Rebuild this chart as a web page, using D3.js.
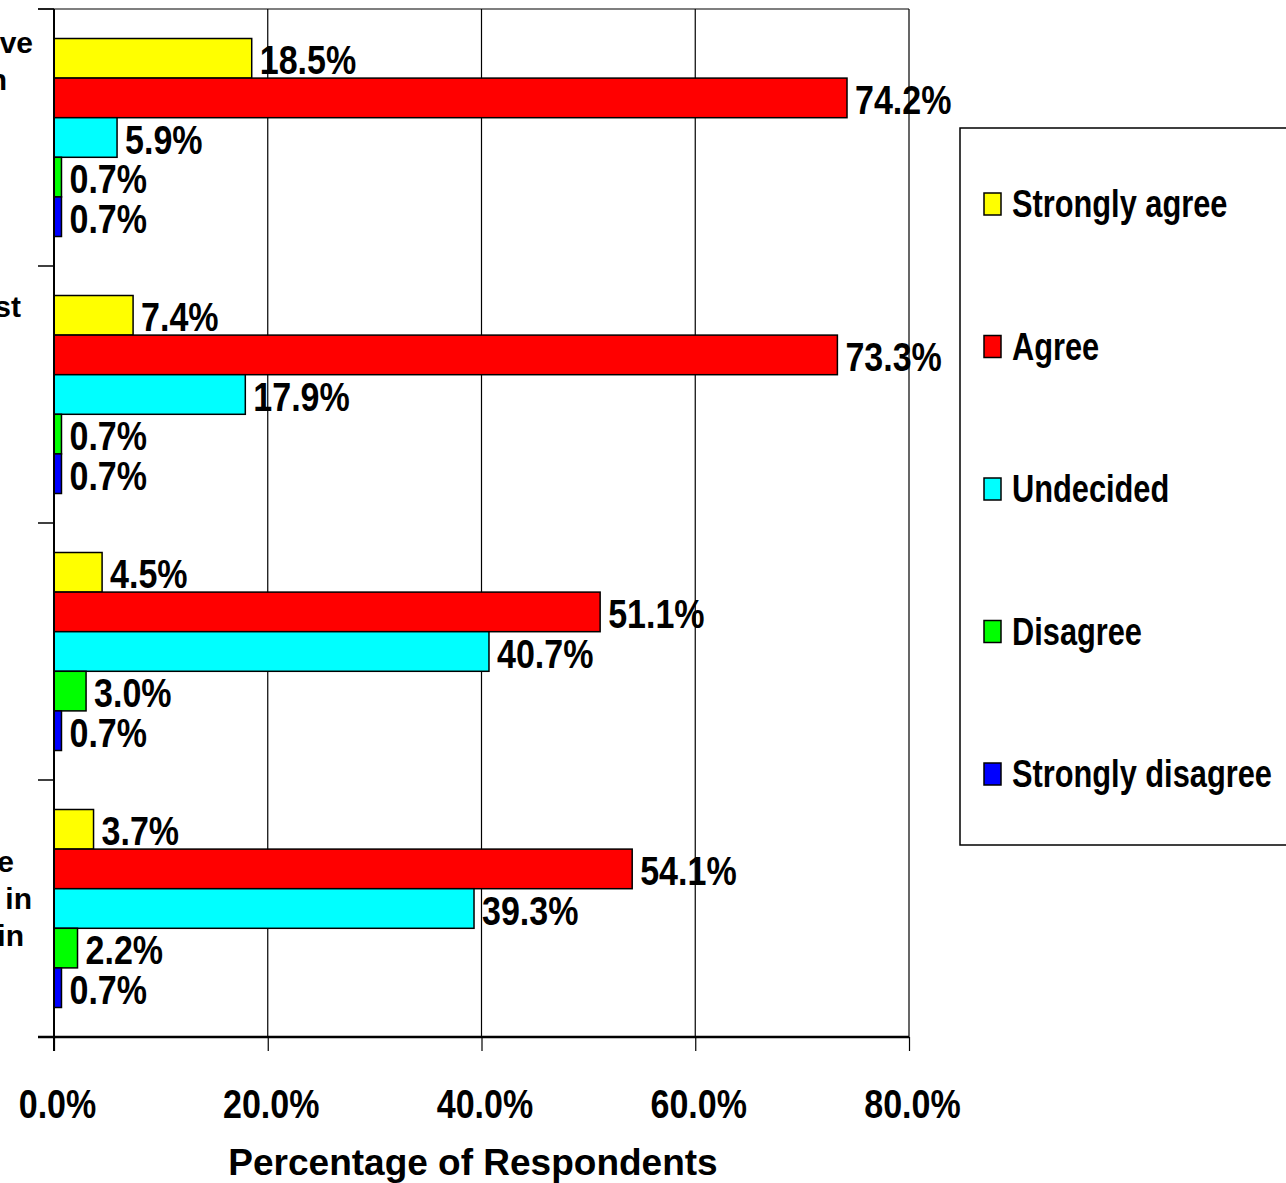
<!DOCTYPE html>
<html>
<head>
<meta charset="utf-8">
<script src="https://cdn.jsdelivr.net/npm/d3@7"></script>
<style>
  body { margin: 0; background: #fff; }
  svg { display: block; }
</style>
</head>
<body>
<div id="chart"></div>
<script>
// category labels are cut off at the left edge of the picture, only these fragments show
const categories = ["c1", "c2", "c3", "c4"];
const categoryLines = [["ve", "n"], ["st"], [], ["e", "in", "in"]];

const series = ["Strongly agree", "Agree", "Undecided", "Disagree", "Strongly disagree"];
const colors = ["#ffff00", "#ff0000", "#00ffff", "#00ff00", "#0000ff"];

const stronglyAgree = [18.5, 7.4, 4.5, 3.7];
const agree = [74.2, 73.3, 51.1, 54.1];
const undecided = [5.9, 17.9, 40.7, 39.3];
const disagree = [0.7, 0.7, 3.0, 2.2];
const stronglyDisagree = [0.7, 0.7, 0.7, 0.7];
const seriesValues = [stronglyAgree, agree, undecided, disagree, stronglyDisagree];

const xTicks = [0, 20, 40, 60, 80];

const width = 1286;
const height = 1183;
const margin = { top: 9, right: 377, bottom: 146, left: 54 };

// where the cut-off label fragments sit (right end x, first baseline below band top)
const lineEnds = [[33, 7], [21], [], [14, 32, 24]];
const firstBaseline = [44, 51, 0, 92];
const lineStep = 37;

const font = "'Liberation Sans', Arial, sans-serif";
const squeeze = 0.83; // no narrow face installed, so squeeze the bold sans

const svg = d3.select("#chart")
    .append("svg")
    .attr("width", width)
    .attr("height", height);

const x = d3.scaleLinear()
    .domain([0, 80])
    .range([margin.left, width - margin.right]);

const y = d3.scaleBand()
    .domain(categories)
    .range([margin.top, height - margin.bottom]);

const pad = 29.5;
const yInner = d3.scaleBand()
    .domain(series)
    .range([pad, y.bandwidth() - pad]);

// gridlines
svg.append("g")
    .selectAll("line")
    .data(xTicks.slice(1))
    .enter().append("line")
    .attr("x1", d => x(d))
    .attr("x2", d => x(d))
    .attr("y1", margin.top)
    .attr("y2", height - margin.bottom)
    .attr("stroke", "#000")
    .attr("stroke-width", 1.2);

// top border of plot
svg.append("line")
    .attr("x1", 38)
    .attr("x2", x(80))
    .attr("y1", margin.top)
    .attr("y2", margin.top)
    .attr("stroke", "#000")
    .attr("stroke-width", 1.2);

// bars
const rows = [];
categories.forEach((c, ci) => {
    series.forEach((s, si) => {
        rows.push({ cat: c, ser: s, si: si, value: seriesValues[si][ci] });
    });
});

svg.append("g")
    .selectAll("rect")
    .data(rows)
    .enter().append("rect")
    .attr("x", x(0))
    .attr("y", d => y(d.cat) + yInner(d.ser))
    .attr("width", d => x(d.value) - x(0))
    .attr("height", yInner.bandwidth())
    .attr("fill", d => colors[d.si])
    .attr("stroke", "#000")
    .attr("stroke-width", 1.5);

// value labels
svg.append("g")
    .selectAll("text")
    .data(rows)
    .enter().append("text")
    .attr("transform", d => {
        const tx = x(d.value) + 8;
        const ty = y(d.cat) + yInner(d.ser) + yInner.bandwidth() / 2 + 2;
        return `translate(${tx},${ty}) scale(${squeeze},1)`;
    })
    .attr("dominant-baseline", "central")
    .style("font-family", font)
    .style("font-weight", "bold")
    .style("font-size", "41px")
    .text(d => d.value.toFixed(1) + "%");

// Y axis
const yAxis = svg.append("g")
    .attr("transform", `translate(${margin.left},0)`);
yAxis.append("line")
    .attr("x1", 0).attr("x2", 0)
    .attr("y1", margin.top).attr("y2", height - margin.bottom + 14)
    .attr("stroke", "#000")
    .attr("stroke-width", 2);
yAxis.selectAll(".ytick")
    .data(categories.concat(["end"]))
    .enter().append("line")
    .attr("class", "ytick")
    .attr("x1", -16).attr("x2", 0)
    .attr("y1", (d, i) => margin.top + i * y.step())
    .attr("y2", (d, i) => margin.top + i * y.step())
    .attr("stroke", "#000")
    .attr("stroke-width", 1.5);

// X axis
const xAxis = svg.append("g")
    .attr("transform", `translate(0,${height - margin.bottom})`)
    .call(d3.axisBottom(x).tickValues(xTicks).tickSize(14).tickFormat(d => d.toFixed(1) + "%"));
xAxis.select(".domain").remove();
xAxis.append("line")
    .attr("x1", 38).attr("x2", x(80))
    .attr("stroke", "#000")
    .attr("stroke-width", 2.5);
xAxis.selectAll(".tick line").attr("stroke", "#000").attr("stroke-width", 1.2);
xAxis.selectAll(".tick text")
    .attr("y", 0)
    .attr("dy", 0)
    .attr("transform", `translate(3,81) scale(${squeeze},1)`)
    .attr("fill", "#000")
    .style("font-family", font)
    .style("font-weight", "bold")
    .style("font-size", "41px");

// axis title
svg.append("text")
    .attr("x", 473)
    .attr("y", 1175)
    .attr("text-anchor", "middle")
    .style("font-family", font)
    .style("font-weight", "bold")
    .style("font-size", "37px")
    .text("Percentage of Respondents");

// category label fragments
categoryLines.forEach((lines, ci) => {
    lines.forEach((line, li) => {
        svg.append("text")
            .attr("x", lineEnds[ci][li])
            .attr("y", y(categories[ci]) + firstBaseline[ci] + li * lineStep)
            .attr("text-anchor", "end")
            .style("font-family", font)
            .style("font-weight", "bold")
            .style("font-size", "30px")
            .text(line);
    });
});

// legend
const legend = svg.append("g");
legend.append("rect")
    .attr("x", 960)
    .attr("y", 128)
    .attr("width", 400)
    .attr("height", 717)
    .attr("fill", "#fff")
    .attr("stroke", "#000")
    .attr("stroke-width", 1.5);

const legendItems = legend.selectAll(".item")
    .data(series)
    .enter().append("g")
    .attr("class", "item")
    .attr("transform", (d, i) => `translate(984,${204 + i * 142.5})`);
legendItems.append("rect")
    .attr("x", 0)
    .attr("y", -11)
    .attr("width", 17)
    .attr("height", 22)
    .attr("fill", (d, i) => colors[i])
    .attr("stroke", "#000")
    .attr("stroke-width", 1.5);
legendItems.append("text")
    .attr("transform", `translate(28,0) scale(0.81,1)`)
    .attr("dominant-baseline", "central")
    .style("font-family", font)
    .style("font-weight", "bold")
    .style("font-size", "38px")
    .text(d => d);
</script>
</body>
</html>
